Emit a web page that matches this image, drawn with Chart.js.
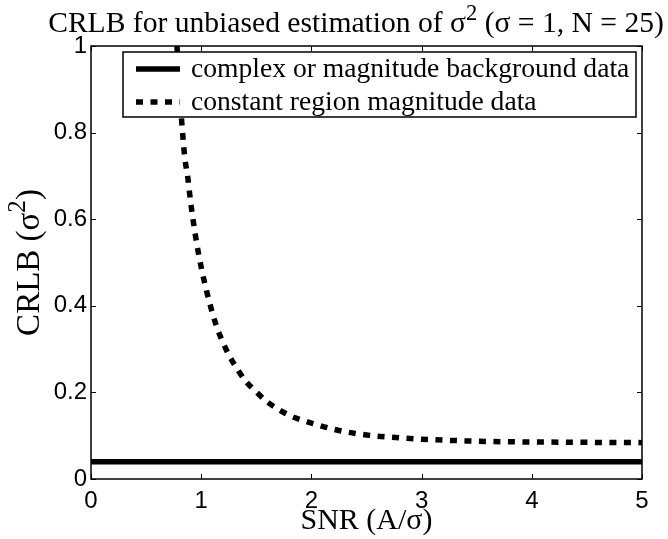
<!DOCTYPE html>
<html lang="en">
<head>
    <meta charset="UTF-8" />
    <title>CRLB for unbiased estimation</title>
    <style>
        body {
            margin: 0;
            padding: 0;
            background: #fff;
        }
        #wrap {
            width: 668px;
            height: 539px;
        }
    </style>
</head>
<body>
    <div id="wrap"><canvas id="crlb-chart" width="668" height="539"></canvas></div>
    <script src="https://cdn.jsdelivr.net/npm/chart.js@4.4.0/dist/chart.umd.min.js"></script>
    <script>
        // values
        const snr = [0.78, 0.80, 0.82, 0.85, 0.88, 0.90, 0.93, 0.96, 1.00, 1.05, 1.10, 1.15, 1.20, 1.25, 1.30, 1.40, 1.50, 1.60, 1.70, 1.80, 1.90, 2.00, 2.20, 2.40, 2.60, 2.80, 3.00, 3.40, 3.80, 4.30, 5.00];
        const crlbMagnitude = [1.0, 0.91, 0.836, 0.745, 0.693, 0.648, 0.592, 0.543, 0.489, 0.433, 0.385, 0.345, 0.314, 0.287, 0.265, 0.227, 0.201, 0.178, 0.161, 0.147, 0.137, 0.129, 0.115, 0.105, 0.099, 0.095, 0.092, 0.088, 0.086, 0.085, 0.084];
        const snrFlat = [0, 5];
        const crlbComplex = [0.04, 0.04];
        const xTicks = [0, 1, 2, 3, 4, 5];
        const yTicks = [0, 0.2, 0.4, 0.6, 0.8, 1];
        const seriesNames = ["complex or magnitude background data", "constant region magnitude data"];

        const SERIF = "'Liberation Serif', 'Times New Roman', serif";
        const SANS = "'Liberation Sans', Arial, sans-serif";

        // font size so that a text gets a given width
        function fitFont(ctx, text, width, family) {
            ctx.font = "100px " + family;
            return 100 * width / ctx.measureText(text).width;
        }

        // draws text with a raised "2" after the first part
        function drawSquared(ctx, before, after, size, x, y) {
            const big = size.toFixed(1) + "px " + SERIF;
            const small = (size * 0.76).toFixed(1) + "px " + SERIF;
            ctx.font = big;
            const w1 = ctx.measureText(before).width;
            const w3 = ctx.measureText(after).width;
            ctx.font = small;
            const w2 = ctx.measureText("2").width;
            let cx = x - (w1 + w2 + w3) / 2;
            ctx.textAlign = "left";
            ctx.font = big;
            ctx.fillText(before, cx, y); cx += w1;
            ctx.font = small;
            ctx.fillText("2", cx, y - size * 0.42); cx += w2;
            ctx.font = big;
            ctx.fillText(after, cx, y);
        }

        const matlabLook = {
            id: "matlabLook",
            afterDatasetsDraw(chart) {
                const ctx = chart.ctx;
                const a = chart.chartArea;
                const xs = chart.scales.x;
                const ys = chart.scales.y;
                ctx.save();

                // box + inward ticks on all four sides
                ctx.strokeStyle = "#000";
                ctx.lineWidth = 1.5;
                ctx.strokeRect(a.left, a.top, a.right - a.left, a.bottom - a.top);
                ctx.lineWidth = 1;
                ctx.beginPath();
                xTicks.forEach(v => {
                    const px = Math.round(xs.getPixelForValue(v)) + 0.5;
                    ctx.moveTo(px, a.bottom); ctx.lineTo(px, a.bottom - 5);
                    ctx.moveTo(px, a.top); ctx.lineTo(px, a.top + 5);
                });
                yTicks.forEach(v => {
                    const py = Math.round(ys.getPixelForValue(v)) + 0.5;
                    ctx.moveTo(a.left, py); ctx.lineTo(a.left + 5, py);
                    ctx.moveTo(a.right, py); ctx.lineTo(a.right - 5, py);
                });
                ctx.stroke();

                // legend inside the axes
                const bx = a.left + 32, by = a.top + 6, bw = a.right - a.left - 38, bh = 65;
                ctx.fillStyle = "#fff";
                ctx.fillRect(bx, by, bw, bh);
                ctx.lineWidth = 1.5;
                ctx.strokeRect(bx, by, bw, bh);
                const fs = fitFont(ctx, seriesNames[0], 438, SERIF);
                ctx.font = fs.toFixed(1) + "px " + SERIF;
                ctx.textBaseline = "middle";
                ctx.fillStyle = "#000";
                chart.data.datasets.forEach((ds, i) => {
                    const cy = by + 17 + i * 33;
                    ctx.strokeStyle = ds.borderColor;
                    ctx.lineWidth = ds.borderWidth;
                    ctx.setLineDash(ds.borderDash || []);
                    ctx.beginPath();
                    ctx.moveTo(bx + 13, cy);
                    ctx.lineTo(bx + 57, cy);
                    ctx.stroke();
                    ctx.setLineDash([]);
                    ctx.fillText(ds.label, bx + 68, cy + 1);
                });
                ctx.restore();
            },
            afterDraw(chart) {
                const ctx = chart.ctx;
                const a = chart.chartArea;
                ctx.save();
                ctx.fillStyle = "#000";
                ctx.textBaseline = "alphabetic";

                // title
                const ts = fitFont(ctx, "CRLB for unbiased estimation of \u03c32 (\u03c3 = 1, N = 25)", 620, SERIF);
                drawSquared(ctx, "CRLB for unbiased estimation of \u03c3", " (\u03c3 = 1, N = 25)", ts, 356, 32);

                // x title
                const ls = fitFont(ctx, "SNR (A/\u03c3)", 132, SERIF);
                ctx.font = ls.toFixed(1) + "px " + SERIF;
                ctx.textAlign = "center";
                ctx.fillText("SNR (A/\u03c3)", (a.left + a.right) / 2, 529);

                // y title, rotated
                ctx.translate(39, (a.top + a.bottom) / 2);
                ctx.rotate(-Math.PI / 2);
                drawSquared(ctx, "CRLB (\u03c3", ")", ls * 1.1, 0, 0);
                ctx.restore();
            }
        };

        const chart = new Chart(document.getElementById("crlb-chart"), {
            type: "line",
            data: {
                datasets: [
                    {
                        label: seriesNames[0],
                        data: snrFlat.map((v, i) => ({ x: v, y: crlbComplex[i] })),
                        borderColor: "#000",
                        borderWidth: 5.5,
                        pointRadius: 0,
                        fill: false
                    },
                    {
                        label: seriesNames[1],
                        data: snr.map((v, i) => ({ x: v, y: crlbMagnitude[i] })),
                        borderColor: "#000",
                        borderWidth: 5.5,
                        borderDash: [7, 7.5],
                        borderCapStyle: "butt",
                        pointRadius: 0,
                        cubicInterpolationMode: "monotone",
                        fill: false
                    }
                ]
            },
            options: {
                responsive: false,
                animation: false,
                layout: { padding: { top: 46, right: 26, left: 0, bottom: 0 } },
                plugins: {
                    legend: { display: false },
                    title: { display: false },
                    tooltip: { enabled: false }
                },
                scales: {
                    x: {
                        type: "linear",
                        min: 0,
                        max: 5,
                        afterBuildTicks: s => { s.ticks = xTicks.map(v => ({ value: v })); },
                        afterFit: s => { s.height = 60; },
                        grid: { display: false, drawTicks: false },
                        border: { display: false },
                        ticks: {
                            color: "#000",
                            padding: 8,
                            maxRotation: 0,
                            font: { family: SANS, size: 24 }
                        }
                    },
                    y: {
                        type: "linear",
                        min: 0,
                        max: 1,
                        afterBuildTicks: s => { s.ticks = yTicks.map(v => ({ value: v })); },
                        afterFit: s => { s.width = 91; },
                        grid: { display: false, drawTicks: false },
                        border: { display: false },
                        ticks: {
                            color: "#000",
                            padding: 4,
                            font: { family: SANS, size: 24 },
                            callback: v => String(+v.toFixed(1))
                        }
                    }
                }
            },
            plugins: [matlabLook]
        });
    </script>
</body>
</html>
